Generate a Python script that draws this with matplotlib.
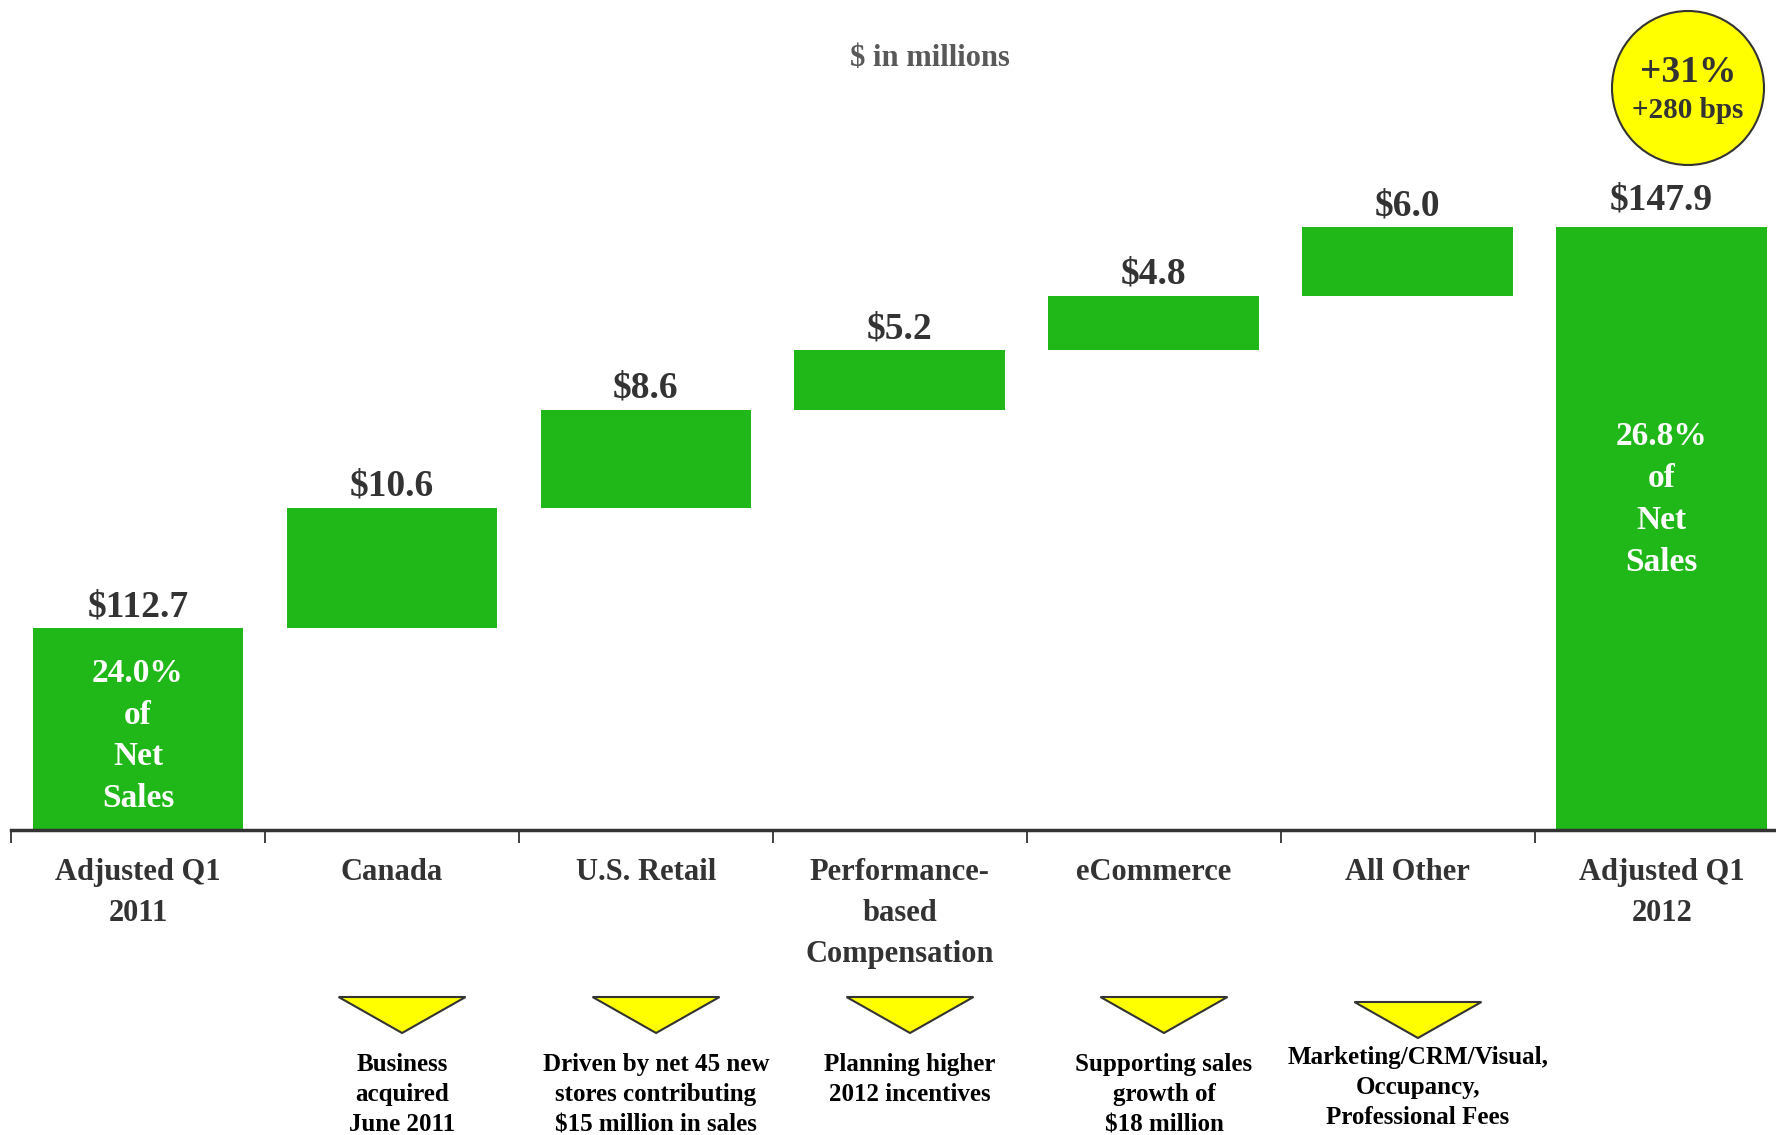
import matplotlib
matplotlib.use("Agg")
import matplotlib.pyplot as plt
from matplotlib.patches import Polygon, Ellipse
from matplotlib.transforms import blended_transform_factory

# data
categories = ["Adjusted Q1\n2011", "Canada", "U.S. Retail", "Performance-\nbased\nCompensation",
              "eCommerce", "All Other", "Adjusted Q1\n2012"]
steps = [112.7, 10.6, 8.6, 5.2, 4.8, 6.0, 147.9]
value_labels = ["$112.7", "$10.6", "$8.6", "$5.2", "$4.8", "$6.0", "$147.9"]
total_notes = ["24.0%\nof\nNet\nSales", "26.8%\nof\nNet\nSales"]
driver_notes = ["Business\nacquired\nJune 2011",
                "Driven by net 45 new\nstores contributing\n$15 million in sales",
                "Planning higher\n2012 incentives",
                "Supporting sales\ngrowth of\n$18 million",
                "Marketing/CRM/Visual,\nOccupancy,\nProfessional Fees"]
badge_lines = ["+31%", "+280 bps"]
y_floor = 95.0  # axis is cut, bars start here

GREEN = "#20B818"
DARK = "#333333"
YELLOW = "#FFFF00"
plt.rcParams['font.family'] = ['Liberation Serif', 'DejaVu Serif']
plt.rcParams['font.weight'] = 'bold'

W, H = 1776, 1135
fig = plt.figure(figsize=(W / 100, H / 100), dpi=100)
ax = fig.add_axes([11 / W, (H - 830) / H, (W - 11) / W, 830 / H])

n = len(steps)
xs = list(range(n))
bottoms, heights = [], []
running = 0.0
for i, s in enumerate(steps):
    if i == 0 or i == n - 1:
        bottoms.append(y_floor)
        heights.append(s - y_floor)
        running = s
    else:
        bottoms.append(running)
        heights.append(s)
        running += s

ax.bar(xs, heights, bottom=bottoms, width=0.83, color=GREEN, edgecolor='none', zorder=2)

# value labels on top of bars
for i in xs:
    off = 7 if i == n - 1 else 3
    ax.annotate(value_labels[i], (i, bottoms[i] + heights[i]), xytext=(0, off),
                textcoords='offset points', ha='center', va='bottom',
                fontsize=27, color=DARK, fontweight='bold')

# white text inside total bars
ax.text(0, (y_floor + steps[0]) / 2 - 0.6, total_notes[0], ha='center', va='center',
        fontsize=24, color='white', fontweight='bold', linespacing=1.45)
ax.text(n - 1, 124.0, total_notes[1], ha='center', va='center',
        fontsize=24, color='white', fontweight='bold', linespacing=1.45)

ax.set_xlim(-0.5, 6.45)
ax.set_ylim(y_floor, y_floor + 830 / 11.39)

for sp in ['left', 'top', 'right']:
    ax.spines[sp].set_visible(False)
ax.spines['bottom'].set_color(DARK)
ax.spines['bottom'].set_linewidth(2.5)
ax.set_yticks([])
ax.set_xticks([i - 0.5 for i in xs])
ax.set_xticklabels([])
ax.tick_params(axis='x', direction='out', length=9, width=1.3, color=DARK)

# category labels under the axis
trans = blended_transform_factory(ax.transData, ax.transAxes)
for i in xs:
    ax.text(i, -0.034, categories[i], transform=trans, ha='center', va='top',
            fontsize=22, color=DARK, fontweight='bold', linespacing=1.55)

# yellow triangles and explanations for the drivers
ftrans = blended_transform_factory(ax.transData, fig.transFigure)
for k, note in enumerate(driver_notes):
    cx = k + 1 + 0.04
    top = 1 - 997 / H
    if k == 4:
        tri_top = 1 - 1002 / H
        text_top = 1 - 1046 / H
    else:
        tri_top = top
        text_top = top - 56 / H
    tri = Polygon([(cx - 0.25, tri_top), (cx + 0.25, tri_top), (cx, tri_top - 36 / H)],
                  closed=True, facecolor=YELLOW, edgecolor=DARK, lw=1.5,
                  transform=ftrans, clip_on=False)
    ax.add_patch(tri)
    ax.text(cx, text_top, note, transform=ftrans, ha='center', va='top',
            fontsize=18, color='black', fontweight='bold', linespacing=1.4)

# title
fig.text(930 / W, 1 - 59 / H, "$ in millions", ha='center', va='center',
         fontsize=22, color='#595959', fontweight='bold')

# badge
circ = Ellipse((1688 / W, 1 - 88 / H), 152 / W, 154 / H, transform=fig.transFigure,
               facecolor=YELLOW, edgecolor=DARK, lw=1.5)
fig.add_artist(circ)
fig.text(1688 / W, 1 - 72 / H, badge_lines[0], ha='center', va='center',
         fontsize=27, color=DARK, fontweight='bold')
fig.text(1688 / W, 1 - 110 / H, badge_lines[1], ha='center', va='center',
         fontsize=21, color=DARK, fontweight='bold')

fig.savefig("out.png", dpi=100)
